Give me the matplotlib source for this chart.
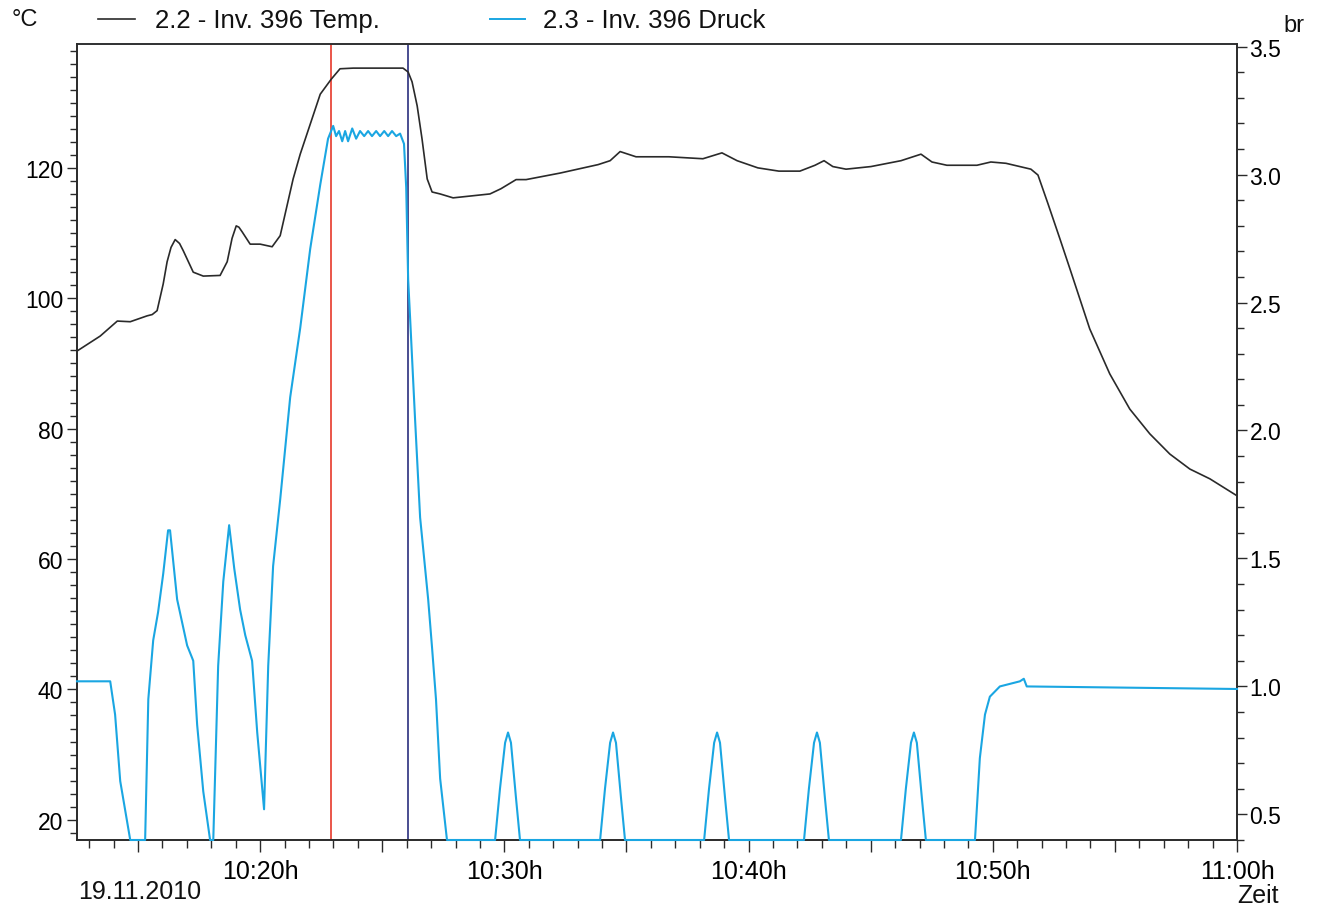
import matplotlib
matplotlib.use("Agg")
import matplotlib.pyplot as plt
from matplotlib.lines import Line2D
from matplotlib.ticker import MultipleLocator, FuncFormatter

plt.rcParams['font.family'] = ['Liberation Sans', 'DejaVu Sans']

# time in minutes after 10:00
temp_t = [12.5, 13.45, 14.15, 14.68, 15.37, 15.58, 15.78, 16.03, 16.19, 16.35, 16.52, 16.7, 16.85,
          17.26, 17.67, 18.36, 18.65, 18.85, 19.02, 19.13, 19.26, 19.59, 20.0, 20.49, 20.82, 21.35,
          21.64, 22.46, 22.91, 23.27, 23.81, 25.85, 26.06, 26.22, 26.43, 26.63, 26.84, 27.04, 27.37,
          27.90, 29.41, 29.86, 30.48, 30.89, 32.28, 33.84, 34.33, 34.74, 35.39, 36.74, 38.13, 38.91,
          39.53, 40.38, 41.24, 42.10, 42.72, 43.09, 43.45, 43.99, 45.01, 46.24, 47.06, 47.51, 48.12,
          49.35, 49.92, 50.54, 51.56, 51.85, 52.26, 52.75, 53.16, 53.97, 54.79, 55.61, 56.43, 57.25,
          58.07, 58.89, 60.0]
temp_v = [91.9, 94.2, 96.5, 96.4, 97.3, 97.5, 98.1, 102.2, 105.6, 107.8, 109.0, 108.4, 107.3,
          104.0, 103.4, 103.5, 105.6, 109.2, 111.1, 110.9, 110.2, 108.3, 108.3, 107.9, 109.6, 118.3,
          122.1, 131.3, 133.6, 135.2, 135.3, 135.3, 134.7, 133.2, 129.5, 124.4, 118.3, 116.3, 116.0,
          115.4, 116.0, 116.8, 118.2, 118.2, 119.2, 120.5, 121.1, 122.5, 121.7, 121.7, 121.4, 122.3,
          121.1, 120.0, 119.5, 119.5, 120.4, 121.1, 120.2, 119.8, 120.2, 121.1, 122.1, 120.9, 120.4,
          120.4, 120.9, 120.7, 119.8, 118.9, 114.5, 109.1, 104.5, 95.3, 88.4, 83.0, 79.2, 76.1,
          73.8, 72.3, 69.7]

press_t = [12.5, 13.86, 14.06, 14.27, 14.68, 15.29, 15.42, 15.62, 15.82, 16.03, 16.23, 16.31, 16.60,
           17.01, 17.22, 17.26, 17.42, 17.67, 17.95, 18.08, 18.28, 18.49, 18.73, 18.94, 19.18, 19.39,
           19.67, 19.88, 20.16, 20.33, 20.53, 20.82, 21.23, 21.64, 22.05, 22.46, 22.78, 22.99,
           23.11, 23.23, 23.36, 23.48, 23.60, 23.77, 23.93, 24.09, 24.26, 24.42, 24.58, 24.75, 24.91,
           25.08, 25.24, 25.40, 25.57, 25.73, 25.81, 25.89, 25.98, 26.06, 26.14, 26.34, 26.55, 26.88,
           27.04, 27.20, 27.37, 27.65,
           29.62, 29.82, 30.03, 30.15, 30.27, 30.48, 30.64,
           33.92, 34.12, 34.33, 34.45, 34.57, 34.78, 34.94,
           38.18, 38.38, 38.59, 38.71, 38.83, 39.04, 39.20,
           42.27, 42.47, 42.68, 42.80, 42.92, 43.13, 43.29,
           46.24, 46.44, 46.65, 46.77, 46.89, 47.10, 47.26,
           49.27, 49.47, 49.68, 49.88, 50.29, 50.70, 51.11, 51.27, 51.39, 60.0]
press_v = [1.02, 1.02, 0.89, 0.63, 0.40, 0.40, 0.95, 1.18, 1.29, 1.44, 1.61, 1.61, 1.34,
           1.16, 1.11, 1.10, 0.85, 0.59, 0.40, 0.40, 1.08, 1.41, 1.63, 1.46, 1.30, 1.20,
           1.10, 0.82, 0.52, 1.08, 1.47, 1.73, 2.13, 2.40, 2.71, 2.96, 3.14, 3.19,
           3.15, 3.17, 3.13, 3.17, 3.13, 3.18, 3.14, 3.17, 3.15, 3.17, 3.15, 3.17, 3.15,
           3.17, 3.15, 3.17, 3.15, 3.16, 3.14, 3.12, 2.95, 2.59, 2.44, 2.05, 1.66, 1.34,
           1.15, 0.95, 0.64, 0.40,
           0.40, 0.60, 0.78, 0.82, 0.78, 0.56, 0.40,
           0.40, 0.60, 0.78, 0.82, 0.78, 0.56, 0.40,
           0.40, 0.60, 0.78, 0.82, 0.78, 0.56, 0.40,
           0.40, 0.60, 0.78, 0.82, 0.78, 0.56, 0.40,
           0.40, 0.60, 0.78, 0.82, 0.78, 0.56, 0.40,
           0.40, 0.72, 0.89, 0.96, 1.00, 1.01, 1.02, 1.03, 1.00, 0.99]

marker_red_t = 22.91
marker_blue_t = 26.06

temp_label = "2.2 - Inv. 396 Temp."
press_label = "2.3 - Inv. 396 Druck"

W, H = 1319, 912
fig = plt.figure(figsize=(W / 100, H / 100), dpi=100)
x0, x1, y0, y1 = 77, 1237, 841, 45
ax = fig.add_axes([x0 / W, 1 - y0 / H, (x1 - x0) / W, (y0 - y1) / H])
ax2 = ax.twinx()

black = '#2a2a2a'
blue = '#1aa6e2'

ax.plot(temp_t, temp_v, color=black, lw=1.2, zorder=3)
ax2.plot(press_t, press_v, color=blue, lw=1.5, zorder=3, clip_on=False)
ax.axvline(marker_red_t, color='#e8483a', lw=1.3, zorder=2)
ax.axvline(marker_blue_t, color='#3a3f88', lw=1.3, zorder=2)

ax.set_xlim(12.5, 60.0)
ax.set_ylim(16.9, 139.0)
ax2.set_ylim(0.4, 3.51)

def xfmt(v, pos):
    m = int(round(v))
    if m % 10 != 0:
        return ''
    return f"{10 + m // 60}:{m % 60:02d}h"

ax.xaxis.set_major_locator(MultipleLocator(5))
ax.xaxis.set_minor_locator(MultipleLocator(1))
ax.xaxis.set_major_formatter(FuncFormatter(xfmt))
ax.yaxis.set_major_locator(MultipleLocator(20))
ax.yaxis.set_minor_locator(MultipleLocator(2))
ax2.yaxis.set_major_locator(MultipleLocator(0.5))
ax2.yaxis.set_minor_locator(MultipleLocator(0.1))
ax2.yaxis.set_major_formatter(FuncFormatter(lambda v, p: f"{v:.1f}"))

ax.tick_params(axis='x', which='major', length=8.5, width=1, labelsize=18, pad=5, color=black)
ax.tick_params(axis='x', which='minor', length=6, width=1, color=black)
ax.tick_params(axis='y', which='major', length=7.5, width=1, labelsize=16.5, pad=2.5, color=black)
ax.tick_params(axis='y', which='minor', length=5, width=1, color=black)
ax2.tick_params(axis='y', which='major', length=7.5, width=1, labelsize=16.5, pad=1.5, color=black)
ax2.tick_params(axis='y', which='minor', length=5, width=1, color=black)

for a in (ax, ax2):
    for s in a.spines.values():
        s.set_color(black)
        s.set_linewidth(1.2)
ax.spines['top'].set_color('#4a4f5a')

# legend / header
def fx(px):
    return px / W

def fy(py):
    return 1 - py / H

fig.add_artist(Line2D([fx(98), fx(135)], [fy(20), fy(20)], color=black, lw=1.2))
fig.text(fx(155), fy(21), temp_label, fontsize=18.5, va='center', ha='left', color='#111111')
fig.add_artist(Line2D([fx(490), fx(525)], [fy(20), fy(20)], color=blue, lw=1.4))
fig.text(fx(543), fy(21), press_label, fontsize=18.5, va='center', ha='left', color='#111111')
fig.text(fx(12), fy(20), "°C", fontsize=17, va='center', ha='left', color='#111111')
fig.text(fx(1283), fy(26), "br", fontsize=17, va='center', ha='left', color='#111111')
fig.text(fx(78), fy(892), "19.11.2010", fontsize=18, va='center', ha='left', color='#111111')
fig.text(fx(1237), fy(896), "Zeit", fontsize=18, va='center', ha='left', color='#111111')

fig.savefig("out.png", dpi=100, facecolor='white')
